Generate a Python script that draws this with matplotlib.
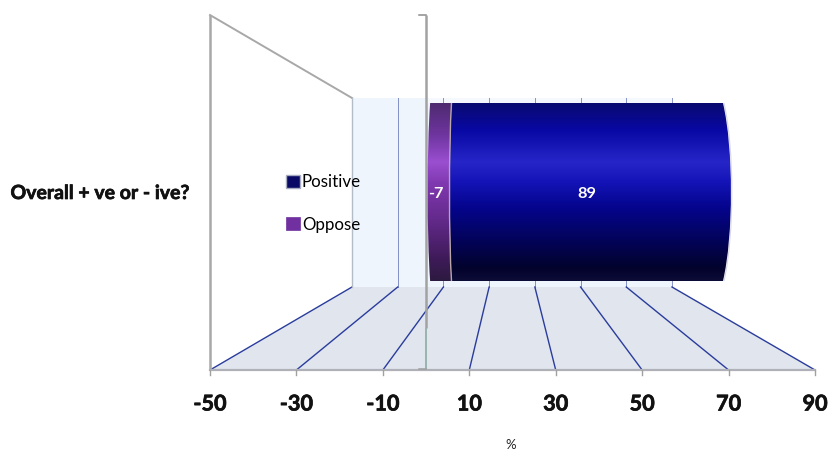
import numpy as np
import matplotlib
matplotlib.use("Agg")
import matplotlib.pyplot as plt
import matplotlib.patheffects as pe
from matplotlib.patches import Polygon, PathPatch, Patch
from matplotlib.path import Path
from matplotlib.colors import LinearSegmentedColormap

# ---- data ----
category = "Overall + ve or - ive?"
series_names = ["Positive", "Oppose"]
positive_value = 89
oppose_value = -7
tick_values = [-50, -30, -10, 10, 30, 50, 70, 90]
axis_title = "%"

plt.rcParams["font.family"] = ["Lato", "DejaVu Sans"]

W, H = 829, 450
fig = plt.figure(figsize=(W / 100, H / 100), dpi=100)
ax = fig.add_axes([0, 0, 1, 1])
ax.set_xlim(0, W)
ax.set_ylim(H, 0)
ax.axis("off")

# ---- scene scales ----
vmin, vmax = tick_values[0], tick_values[-1]
front_l, front_r = 210, 815
back_l, back_r = 352, 672
top_front, top_back, bot_back, bot_front = 15, 98, 287, 370
bar_top, bar_bot = 103, 281
axis_x = 426


def fx(v):
    return front_l + (v - vmin) / (vmax - vmin) * (front_r - front_l)


def bx(v):
    return back_l + (v - vmin) / (vmax - vmin) * (back_r - back_l)


def barx(v):
    return 451.5 + 3.05 * v


GREY = "#a8a8a8"
GRID = "#2a3c9c"
heavy = [pe.withStroke(linewidth=0.5, foreground="#111111")]

# walls and floor
ax.add_patch(Polygon([(bx(vmin), top_back), (bx(vmax), top_back), (bx(vmax), bot_back), (bx(vmin), bot_back)],
                     closed=True, fc="#eef5fc", ec="none", zorder=1))
ax.add_patch(Polygon([(axis_x, top_back), (bx(vmax), top_back), (bx(vmax), bar_top), (axis_x, bar_top)],
                     closed=True, fc="#f5f8fd", ec="none", zorder=1))
ax.add_patch(Polygon([(bx(vmin), bot_back), (bx(vmax), bot_back), (fx(vmax), bot_front), (fx(vmin), bot_front)],
                     closed=True, fc="#e0e5ee", ec="none", zorder=1))

# gridlines on back wall and floor
for v in tick_values:
    if v != vmin:
        ax.plot([bx(v), bx(v)], [top_back, bot_back], color=GRID, lw=0.7, alpha=0.55, zorder=2)
    ax.plot([bx(v), fx(v)], [bot_back, bot_front], color=GRID, lw=1.0, zorder=2)

# left wall outline
ax.plot([fx(vmin), fx(vmin)], [top_front, bot_front], color=GREY, lw=1.8, zorder=3, solid_capstyle="butt")
ax.plot([fx(vmin), bx(vmin)], [top_front, top_back], color=GREY, lw=1.4, zorder=3)
ax.plot([bx(vmin), bx(vmin)], [top_back, bot_back], color="#b4bcc8", lw=1.0, zorder=3)

# front axis line and ticks
ax.plot([fx(vmin), fx(vmax)], [bot_front, bot_front], color="#b0b0b8", lw=1.6, zorder=3)
for v in tick_values:
    ax.plot([fx(v), fx(v)], [bot_front, bot_front + 5], color="#a0a0a0", lw=1.0, zorder=3)

# vertical category axis at the crossing point
ax.plot([axis_x, axis_x], [top_front, 328], color="#a2a2a2", lw=1.8, zorder=3, solid_capstyle="butt")
ax.plot([axis_x, axis_x], [328, bot_front], color="#98b4b0", lw=1.4, zorder=3, solid_capstyle="butt")
ax.plot([axis_x - 7, axis_x], [top_front, top_front], color="#8c8c8c", lw=1.1, zorder=3)
ax.plot([axis_x - 7, axis_x], [bot_front - 1, bot_front - 1], color="#a0a0a0", lw=1.1, zorder=3)

# ---- cylinder bars ----
blue_cmap = LinearSegmentedColormap.from_list("b", [
    (0.00, "#0a0a70"), (0.15, "#0808a4"), (0.33, "#2626c8"), (0.44, "#1414b8"),
    (0.58, "#05058f"), (0.75, "#030360"), (0.93, "#02022c"), (1.00, "#0c0c38")])
purple_cmap = LinearSegmentedColormap.from_list("p", [
    (0.00, "#4e2a70"), (0.18, "#6f35a0"), (0.33, "#9a4fd0"), (0.45, "#8038b0"),
    (0.65, "#642a8c"), (0.88, "#3e1a58"), (1.00, "#2c1a40")])
gradient = np.linspace(0, 1, 256).reshape(-1, 1)


def segment_path(x_left, bulge_left, x_right, bulge_right):
    k = 4 / 3
    return Path([(x_left, bar_top), (x_right, bar_top),
                 (x_right + k * bulge_right, bar_top + 45), (x_right + k * bulge_right, bar_bot - 45), (x_right, bar_bot),
                 (x_left, bar_bot),
                 (x_left + k * bulge_left, bar_bot - 45), (x_left + k * bulge_left, bar_top + 45), (x_left, bar_top)],
                [Path.MOVETO, Path.LINETO, Path.CURVE4, Path.CURVE4, Path.CURVE4,
                 Path.LINETO, Path.CURVE4, Path.CURVE4, Path.CURVE4])


def draw_segment(v0, v1, bulge_left, bulge_right, cmap, z):
    xl, xr = barx(v0), barx(v1)
    p = PathPatch(segment_path(xl, bulge_left, xr, bulge_right), fc="none", ec="none", transform=ax.transData)
    ax.add_patch(p)
    im = ax.imshow(gradient, extent=(xl - 12, xr + 12, bar_bot, bar_top), cmap=cmap, aspect="auto",
                   zorder=z, interpolation="bilinear")
    im.set_clip_path(p)


draw_segment(0, positive_value, -2, 8, blue_cmap, 4)
draw_segment(oppose_value, 0, -2.5, -2, purple_cmap, 5)
ax.set_xlim(0, W)
ax.set_ylim(H, 0)

# pale rims
ax.add_patch(PathPatch(Path([(barx(positive_value) + 1, bar_top), (barx(positive_value) + 11.5, bar_top + 45),
                             (barx(positive_value) + 11.5, bar_bot - 45), (barx(positive_value) + 1, bar_bot)],
                            [Path.MOVETO, Path.CURVE4, Path.CURVE4, Path.CURVE4]),
                       fc="none", ec="#d8d8e0", lw=0.8, zorder=3))
ax.add_patch(PathPatch(Path([(barx(0), bar_top), (barx(0) - 2.7, bar_top + 45),
                             (barx(0) - 2.7, bar_bot - 45), (barx(0), bar_bot)],
                            [Path.MOVETO, Path.CURVE4, Path.CURVE4, Path.CURVE4]),
                       fc="none", ec="#b8a8a8", lw=1.0, zorder=6))

# data labels
ax.text(436, 194.5, str(oppose_value), color="white", fontsize=11.8, fontweight="bold",
        ha="center", va="center", zorder=7)
ax.text(587, 194.5, str(positive_value), color="white", fontsize=11.8, fontweight="bold",
        ha="center", va="center", zorder=7)

# category label
ax.text(190, 193.5, category, fontsize=14.0, fontweight="bold", ha="right", va="center", color="#111111",
        path_effects=heavy)

# tick labels and axis title
for v in tick_values:
    ax.text(fx(v), 404, str(v), fontsize=15.6, fontweight="bold", ha="center", va="center", color="#111111",
            path_effects=heavy)
ax.text(511, 445, axis_title, fontsize=9.5, ha="center", va="center", color="#222222")

# legend
handles = [Patch(fc="#0a0a66", ec="#a8acc0", lw=1.0), Patch(fc="#7030a0", ec="#7030a0", lw=0.5)]
ax.legend(handles, series_names, loc="upper left", bbox_to_anchor=(283, 171), bbox_transform=ax.transData,
          frameon=False, fontsize=12.2, handlelength=0.8, handleheight=0.8, handletextpad=0.12,
          labelspacing=1.56, borderpad=0.2, borderaxespad=0).set_zorder(8)

fig.savefig("out.png", dpi=100)
